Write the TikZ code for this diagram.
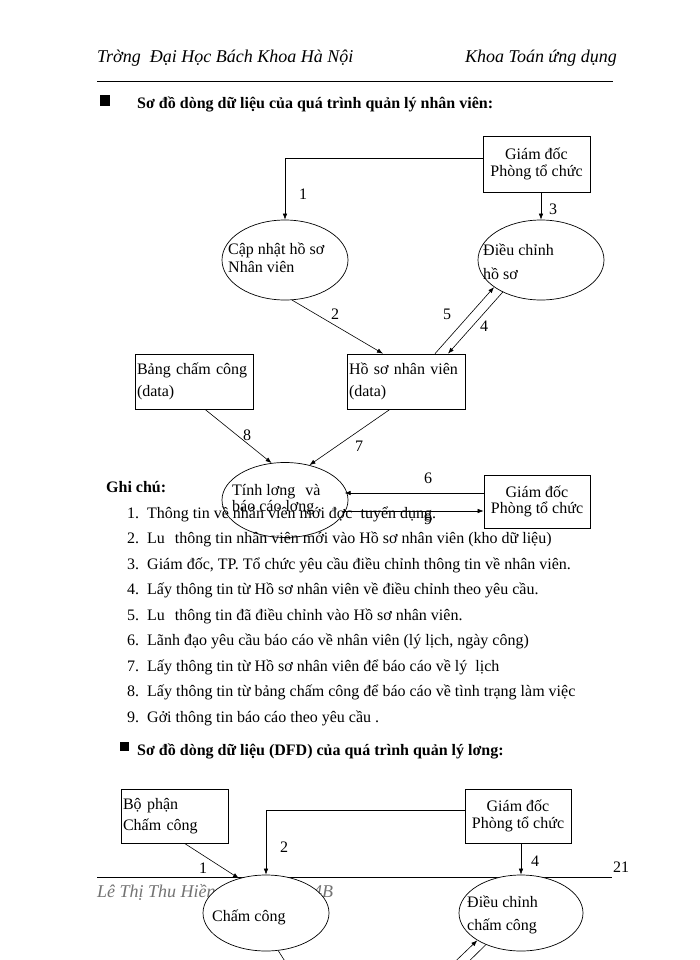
\documentclass[tikz,border=0pt]{standalone}
\usepackage{fontspec}
\setmainfont{Liberation Serif}
\usetikzlibrary{shapes.geometric, arrows.meta, calc}
\newcommand{\chu}{\fontsize{16}{16.5}\selectfont}
\newcommand{\chuviet}{\fontsize{18}{20}\selectfont\itshape}
\newcommand{\muc}[1]{\makebox[20pt][l]{#1}}

\tikzset{
  hop/.style={draw, line width=0.7pt, rectangle, inner sep=2pt, font=\chu},
  xuly/.style={draw, line width=0.7pt, ellipse, inner sep=0pt},
  luong/.style={-{Latex[length=6pt,width=4.5pt]}, line width=0.6pt},
  so/.style={font=\chu, inner sep=0pt},
  dong/.style={font=\chu, anchor=base west, inner sep=0pt},
  tieude/.style={font=\chu\bfseries, anchor=base west, inner sep=0pt}
}

\begin{document}
\begin{tikzpicture}[x=1pt, y=-1pt]
\useasboundingbox[fill=white] (0,0) rectangle (700,960);

% dau trang
\path (97,63) node[anchor=base west, inner sep=0pt, font=\chuviet] (truong) {Trờng\ \ Đại Học Bách Khoa Hà Nội};
\path (617,63) node[anchor=base east, inner sep=0pt, font=\chuviet] (khoa) {Khoa Toán ứng dụng};
\draw[line width=0.6pt] (97,81) -- (613,81);

\fill (100,95) rectangle (110,106);
\path (137,109) node[tieude] (td1) {Sơ đồ dòng dữ liệu của quá trình quản lý nhân viên:};

% so do nhan vien
\node[hop, minimum width=107pt, minimum height=56pt, align=center] (gd1) at (536.5,164) {Giám đốc\\Phòng tổ chức};
\node[xuly, minimum width=126pt, minimum height=80pt] (cn) at (285,260) {};
\node[xuly, minimum width=126pt, minimum height=80pt] (dc) at (541,260) {};
\path (228,254) node[dong] (cn-chu) {Cập nhật hồ sơ};
\path (228,272) node[dong] (cn-chu2) {Nhân viên};
\path (483,255) node[dong] (dc-chu) {Điều chỉnh};
\path (483,279) node[dong] (dc-chu2) {hồ sơ};

\node[hop, text width=114pt, minimum height=55pt, align=left] (bc) at (194,381.5) {Bảng chấm công\\[5pt](data)};
\node[hop, text width=114pt, minimum height=55pt, align=left] (hs) at (406,381.5) {Hồ sơ nhân viên\\[5pt](data)};

\node[xuly, minimum width=126pt, minimum height=75pt] (tl) at (285,500) {};
\path (232,495) node[dong] (tl-chu) {Tính lơng\hspace{10pt}và};
\path (232,511) node[dong] (tl-chu2) {báo cáo lơng};
\node[hop, minimum width=106pt, minimum height=53pt, align=center] (gd2) at (537,501.5) {Giám đốc\\Phòng tổ chức};

\draw[luong] ($(gd1.west)+(0,-6)$) -| (cn.north);
\draw[luong] (gd1.south -| dc.north) -- (dc.north);
\draw[luong] (cn.-80) -- ($(hs.north)+(-23,0)$);
\draw[luong] ($(hs.north)+(29,0)$) -- (dc.-150);
\draw[luong] (dc.-140) -- ($(hs.north)+(42,0)$);
\draw[luong] ($(bc.south)+(11,0)$) -- (tl.110);
\draw[luong] ($(hs.south)+(-16,0)$) -- (tl.55);
\coordinate (vao6) at ($(gd2.west)+(0,-8.5)$);
\coordinate (ra9) at ($(gd2.west)+(0,9.5)$);
\draw[luong] (vao6) -- (vao6 -| tl.12);
\draw[luong] (ra9 -| tl.-14) -- (ra9);

\path (303,194) node[so] (s1) {1};
\path (335,314) node[so] (s2) {2};
\path (553,209) node[so] (s3) {3};
\path (484,326) node[so] (s4) {4};
\path (447,314) node[so] (s5) {5};
\path (428,478) node[so] (s6) {6};
\path (359,446) node[so] (s7) {7};
\path (247,435) node[so] (s8) {8};
\path (428,519) node[so] (s9) {9};

% ghi chu
\path (106,492) node[tieude] (ghichu) {Ghi chú:};
\path (127,518) node[dong] (gc1) {\muc{1.}Thông tin về nhân viên mới đợc\hspace{8pt}tuyển dụng.};
\path (127,543.5) node[dong] (gc2) {\muc{2.}Lu\hspace{10pt}thông tin nhân viên mới vào Hồ sơ nhân viên (kho dữ liệu)};
\path (127,569) node[dong] (gc3) {\muc{3.}Giám đốc, TP. Tổ chức yêu cầu điều chỉnh thông tin về nhân viên.};
\path (127,594.5) node[dong] (gc4) {\muc{4.}Lấy thông tin từ Hồ sơ nhân viên về điều chỉnh theo yêu cầu.};
\path (127,620) node[dong] (gc5) {\muc{5.}Lu\hspace{10pt}thông tin đã điều chỉnh vào Hồ sơ nhân viên.};
\path (127,645.5) node[dong] (gc6) {\muc{6.}Lãnh đạo yêu cầu báo cáo về nhân viên (lý lịch, ngày công)};
\path (127,671) node[dong] (gc7) {\muc{7.}Lấy thông tin từ Hồ sơ nhân viên để báo cáo về lý\ \ lịch};
\path (127,696.5) node[dong] (gc8) {\muc{8.}Lấy thông tin từ bảng chấm công để báo cáo về tình trạng làm việc};
\path (127,722) node[dong] (gc9) {\muc{9.}Gởi thông tin báo cáo theo yêu cầu .};

\fill (120,742) rectangle (129,751);
\path (137,755) node[tieude] (td2) {Sơ đồ dòng dữ liệu (DFD) của quá trình quản lý lơng:};

% chan trang
\draw[line width=0.6pt] (97,877) -- (612,877);
\path (97,897) node[anchor=base west, inner sep=0pt, font=\chuviet, text=black!55] (tacgia) {\makebox[236pt][l]{Lê Thị Thu Hiền\hfill 4B}};
\path (613,872) node[dong] (trang) {21};

% so do luong
\node[hop, text width=103pt, minimum height=54pt, align=left] (bp) at (174.5,816) {Bộ phận\\[5pt]Chấm công};
\node[hop, minimum width=106pt, minimum height=54pt, align=center] (gd3) at (518,816) {Giám đốc\\Phòng tổ chức};
\node[xuly, fill=white, minimum width=126pt, minimum height=76pt] (cc) at (266,913) {};
\node[xuly, fill=white, minimum width=124pt, minimum height=76pt] (dcc) at (521,913) {};
\path (212,921) node[dong] (cc-chu) {Chấm công};
\path (467,907) node[dong] (dcc-chu) {Điều chỉnh};
\path (467,930) node[dong] (dcc-chu2) {chấm công};

\draw[luong] ($(bp.south)+(10,0)$) -- (cc.128);
\draw[luong] ($(gd3.west)+(0,-6)$) -| (cc.north);
\draw[luong] (gd3.south -| dcc.north) -- (dcc.north);
\coordinate (xuong1) at (300,985);
\coordinate (len1) at (440,976);
\coordinate (xuong2) at (454,976);
\draw[line width=0.6pt] (cc.-72) -- (xuong1);
\draw[luong] (len1) -- (dcc.-148);
\draw[line width=0.6pt] (dcc.-138) -- (xuong2);

\path (203,868) node[so] (b1) {1};
\path (284,847) node[so] (b2) {2};
\path (535,861) node[so] (b4) {4};
\end{tikzpicture}
\end{document}
